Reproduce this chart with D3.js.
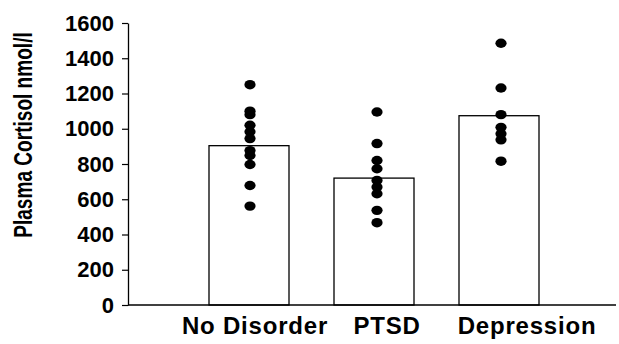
<!DOCTYPE html>
<html>
<head>
<meta charset="utf-8">
<script src="https://cdn.jsdelivr.net/npm/d3@7"></script>
<style>
  body { margin: 0; background: #fff; }
  svg { display: block; font-family: "Liberation Sans", Arial, sans-serif; }
</style>
</head>
<body>
<div id="chart"></div>
<script>
// groups and their bar heights (nmol/l)
var groups = ["No Disorder", "PTSD", "Depression"];
var barMeans = [904, 720, 1074];

// individual subjects
var noDisorderDots = [1250, 1100, 1080, 1020, 983, 944, 876, 848, 797, 678, 561];
var ptsdDots = [1095, 916, 820, 773, 707, 669, 631, 537, 467];
var depressionDots = [1485, 1231, 1080, 1008, 971, 937, 816];

var yTicks = [0, 200, 400, 600, 800, 1000, 1200, 1400, 1600];

var svgWidth = 619, svgHeight = 344;
var axisX = 128, baseY = 305, topY = 23;

var svg = d3.select("#chart").append("svg")
  .attr("width", svgWidth)
  .attr("height", svgHeight);

var yScale = d3.scaleLinear()
  .domain([0, 1600])
  .range([baseY, topY]);

var xScale = d3.scaleBand()
  .domain(groups)
  .range([186.5, 561.5])
  .paddingInner(0.36)
  .paddingOuter(0.18);

//bars
svg.selectAll(".bar")
  .data(groups)
  .enter()
  .append("rect")
  .attr("class", "bar")
  .attr("x", d => xScale(d))
  .attr("width", xScale.bandwidth())
  .attr("y", (d, i) => yScale(barMeans[i]))
  .attr("height", (d, i) => baseY - yScale(barMeans[i]))
  .attr("fill", "#fff")
  .attr("stroke", "#000")
  .attr("stroke-width", 1.3);

//dots
var dotSets = [noDisorderDots, ptsdDots, depressionDots];
var dots = [];
dotSets.forEach(function (set, i) {
  set.forEach(function (v) {
    dots.push({ group: groups[i], value: v });
  });
});
var dotShift = [1, 3, 2];
svg.selectAll(".dot")
  .data(dots)
  .enter()
  .append("ellipse")
  .attr("class", "dot")
  .attr("cx", d => xScale(d.group) + xScale.bandwidth() / 2 + dotShift[groups.indexOf(d.group)])
  .attr("cy", d => yScale(d.value))
  .attr("rx", 5.6)
  .attr("ry", 4.7)
  .attr("fill", "#000");

// y axis
var leftAxis = d3.axisLeft(yScale)
  .tickValues(yTicks)
  .tickFormat(d3.format("d"))
  .tickSize(6)
  .tickSizeOuter(0)
  .tickPadding(8);

var yAxis = svg.append("g")
  .attr("transform", `translate(${axisX}, 0)`)
  .call(leftAxis);
yAxis.select(".domain").attr("stroke", "#000").attr("stroke-width", 1.3);
yAxis.selectAll(".tick line").attr("stroke", "#000").attr("stroke-width", 1.2);
yAxis.selectAll(".tick text")
  .attr("fill", "#000")
  .attr("font-size", "22px")
  .attr("font-weight", "bold")
  .attr("font-family", "'Liberation Sans', Arial, sans-serif");

// x baseline
svg.append("line")
  .attr("x1", axisX)
  .attr("x2", 616)
  .attr("y1", baseY)
  .attr("y2", baseY)
  .attr("stroke", "#000")
  .attr("stroke-width", 1.3);

// category labels (sit a bit right of their bars in the original)
var labelShift = [6, 13, 28];
svg.selectAll(".cat")
  .data(groups)
  .enter()
  .append("text")
  .attr("class", "cat")
  .attr("x", (d, i) => xScale(d) + xScale.bandwidth() / 2 + labelShift[i])
  .attr("y", 334)
  .attr("text-anchor", "middle")
  .attr("font-size", "24px")
  .attr("font-weight", "bold")
  .attr("letter-spacing", "0.8px")
  .attr("fill", "#000")
  .text(d => d);

// y label, squeezed along its length like the original
svg.append("text")
  .attr("transform", "translate(32, 135) rotate(-90) scale(0.763, 1)")
  .attr("text-anchor", "middle")
  .attr("font-size", "25px")
  .attr("font-weight", "bold")
  .attr("fill", "#000")
  .text("Plasma Cortisol nmol/l");
</script>
</body>
</html>
